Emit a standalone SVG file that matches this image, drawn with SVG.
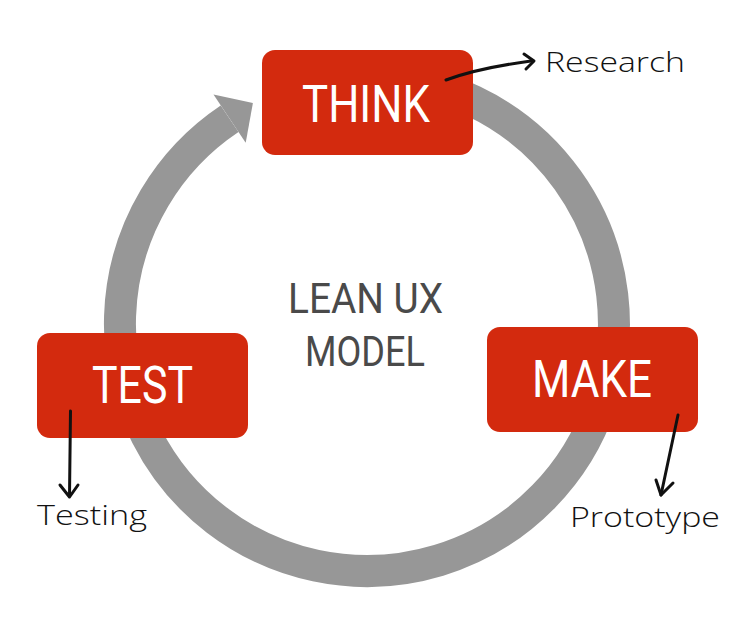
<svg xmlns="http://www.w3.org/2000/svg" width="750" height="631" viewBox="0 0 750 631">
<style>
.box{fill:#D32A0E}
.lbl{font-family:Roboto,"Liberation Sans",sans-serif;font-size:52px;fill:#ffffff}
.ctr{font-family:Roboto,"Liberation Sans",sans-serif;font-size:42px;fill:#4a4a4a}
.hand{font-family:"Open Sans","DejaVu Sans",sans-serif;font-weight:300;font-size:28px;fill:#111111}
.ink{fill:none;stroke:#111111;stroke-width:3;stroke-linecap:round;stroke-linejoin:round}
</style>
<rect width="750" height="631" fill="#ffffff"/>
<g id="cycle">
<path d="M 367 77 A 247 247 0 1 1 229.6 118.7" fill="none" stroke="#979797" stroke-width="32"/>
<polygon points="213.5,94.6 252.9,103.1 245.7,142.8" fill="#979797"/>
</g>
<g id="center">
<text class="ctr" x="365.5" y="313" text-anchor="middle" textLength="155" lengthAdjust="spacingAndGlyphs">LEAN UX</text>
<text class="ctr" x="365" y="366" text-anchor="middle" textLength="120" lengthAdjust="spacingAndGlyphs">MODEL</text>
</g>
<g id="think">
<rect class="box" x="262" y="50" width="211" height="105" rx="13"/>
<text class="lbl" x="366" y="122" text-anchor="middle" textLength="128" lengthAdjust="spacingAndGlyphs">THINK</text>
</g>
<g id="make">
<rect class="box" x="487" y="327" width="211" height="105" rx="13"/>
<text class="lbl" x="592" y="397" text-anchor="middle" textLength="120" lengthAdjust="spacingAndGlyphs">MAKE</text>
</g>
<g id="test">
<rect class="box" x="37" y="333" width="211" height="105" rx="13"/>
<text class="lbl" x="142.5" y="403" text-anchor="middle" textLength="101" lengthAdjust="spacingAndGlyphs">TEST</text>
</g>
<g id="connectors">
<path class="ink" d="M 446 80 Q 478 68 531 61"/>
<path class="ink" d="M 524 54 L 534 61 L 526 69"/>
<path class="ink" d="M 70.5 411 L 69.5 496"/>
<path class="ink" d="M 60 485 L 69.5 497 L 78 485"/>
<path class="ink" d="M 678 415 L 661 495"/>
<path class="ink" d="M 656 480 L 661 495 L 673 483"/>
</g>
<g id="notes">
<text class="hand" x="545" y="72" textLength="140" lengthAdjust="spacingAndGlyphs">Research</text>
<text class="hand" x="37" y="525" textLength="110" lengthAdjust="spacingAndGlyphs">Testing</text>
<text class="hand" x="570" y="527" textLength="150" lengthAdjust="spacingAndGlyphs">Prototype</text>
</g>
</svg>
